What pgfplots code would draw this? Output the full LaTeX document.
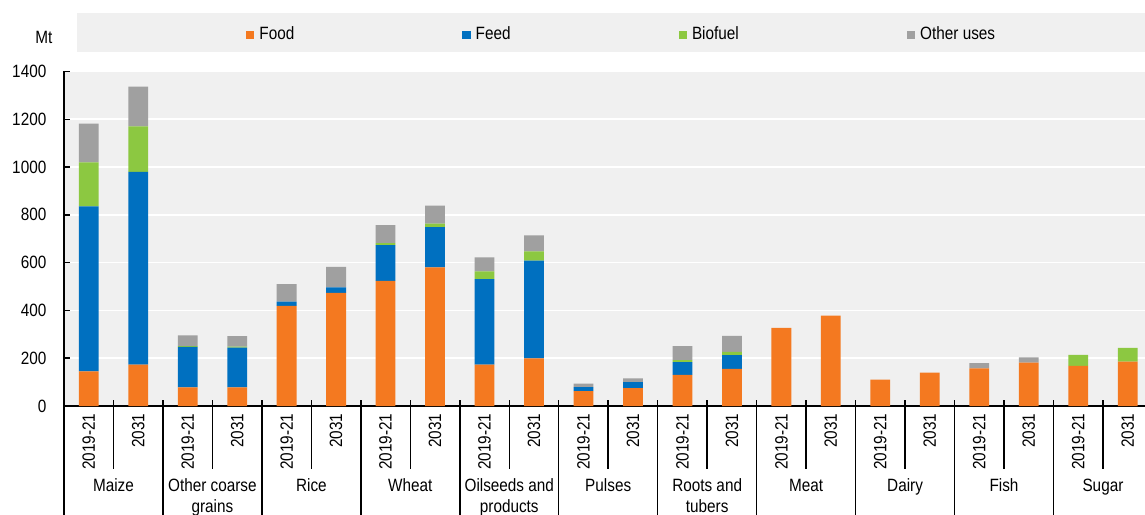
\documentclass[border=0pt]{standalone}
\usepackage{fontspec}
\setmainfont{Liberation Sans}[FakeStretch=0.86]
\usepackage{pgfplots}
\pgfplotsset{compat=1.18}
\definecolor{food}{HTML}{F47920}
\definecolor{feed}{HTML}{0070C0}
\definecolor{bio}{HTML}{8CC841}
\definecolor{oth}{HTML}{A0A0A0}
\definecolor{bg}{HTML}{F0F0F0}
\newcommand\f{\fontsize{8.9}{10.5}\selectfont}
\begin{document}
\begin{tikzpicture}[font=\f]
\fill[bg] (6.5pt,177pt) rectangle (540.5pt,196.5pt);
\node[anchor=base west, inner sep=0pt] at (-14.5pt,181.3pt) {Mt};
\begin{axis}[
  at={(0,0)}, anchor=south west,
  scale only axis,
  width=540.5pt, height=167.25pt,
  xmin=-0.5, xmax=21.35,
  ymin=0, ymax=1400,
  ybar stacked, bar width=0.4,
  ytick={0,200,...,1400},
  xtick={-0.5,0.5,...,21.5},
  xticklabels={},
  tick align=inside,
  major tick length=3pt,
  tick style={black, line width=0.75pt},
  axis x line*=bottom, axis y line*=left,
  axis line style={black, line width=0.75pt, -},
  ymajorgrids, grid style={white, line width=0.8pt},
  axis background/.style={fill=bg},
  clip=false,
  yticklabel style={font=\f, anchor=east, inner sep=0pt, xshift=-8.65pt},
  /pgf/number format/assume math mode=true,
  /pgf/number format/1000 sep={},
  legend columns=4,
  legend cell align=left,
  legend style={draw=none, fill=none, font=\f, inner sep=0pt, outer sep=0pt,
    at={(axis description cs:0.1684,1.1100)}, anchor=west,
    nodes={inner sep=0pt},
    /tikz/every odd column/.append style={column sep=2.5pt},
    /tikz/every even column/.append style={column sep=84pt}},
]
\addplot[fill=food, draw=none, legend image code/.code={\fill[food] (0pt,-2.2pt) rectangle (4.2pt,1.9pt);}] coordinates {
(0,145) (1,173) (2,78) (3,78) (4,419) (5,473) (6,524) (7,580) (8,173) (9,199) (10,62)
(11,75) (12,130) (13,155) (14,327) (15,378) (16,110) (17,140) (18,157) (19,182) (20,168) (21,186)};
\addlegendentry{Food}
\addplot[fill=feed, draw=none, legend image code/.code={\fill[feed] (0pt,-2.2pt) rectangle (4.2pt,1.9pt);}] coordinates {
(0,690) (1,807) (2,169) (3,166) (4,18) (5,23) (6,149) (7,169) (8,358) (9,409) (10,17)
(11,25) (12,54) (13,58) (14,0) (15,0) (16,0) (17,0) (18,0) (19,0) (20,0) (21,0)};
\addlegendentry{Feed}
\addplot[fill=bio, draw=none, legend image code/.code={\fill[bio] (0pt,-2.2pt) rectangle (4.2pt,1.9pt);}] coordinates {
(0,185) (1,190) (2,4) (3,4) (4,0) (5,0) (6,9) (7,14) (8,32) (9,39) (10,0)
(11,0) (12,8) (13,14) (14,0) (15,0) (16,0) (17,0) (18,0) (19,0) (20,46) (21,57)};
\addlegendentry{Biofuel}
\addplot[fill=oth, draw=none, legend image code/.code={\fill[oth] (0pt,-2.2pt) rectangle (4.2pt,1.9pt);}] coordinates {
(0,162) (1,167) (2,45) (3,44) (4,73) (5,86) (6,75) (7,76) (8,59) (9,67) (10,15)
(11,16) (12,59) (13,66) (14,0) (15,0) (16,0) (17,0) (18,22) (19,22) (20,0) (21,0)};
\addlegendentry{Other uses}
% axis line on top of bars
\draw[black, line width=0.75pt] (axis cs:-0.5,0) -- (axis cs:21.35,0);
% separators
\pgfplotsinvokeforeach{-0.5,1.5,3.5,5.5,7.5,9.5,11.5,13.5,15.5,17.5,19.5}{
  \draw[black, line width=0.75pt] (axis cs:#1,0) -- ++(0pt,-60pt);
}
\pgfplotsinvokeforeach{0.5,2.5,4.5,6.5,8.5,10.5,12.5,14.5,16.5,18.5,20.5}{
  \draw[black, line width=0.75pt] (axis cs:#1,0) -- ++(0pt,-31.5pt);
}
\pgfplotsinvokeforeach{0,2,4,6,8,10,12,14,16,18,20}{
  \node[rotate=90, anchor=east, inner sep=0pt] at ([yshift=-3.65pt]axis cs:#1,0) {2019-21};
}
\pgfplotsinvokeforeach{1,3,5,7,9,11,13,15,17,19,21}{
  \node[rotate=90, anchor=east, inner sep=0pt] at ([yshift=-3.65pt]axis cs:#1,0) {2031};
}
\node[anchor=base, inner sep=0pt] at ([yshift=-42.85pt]axis cs:0.5,0) {Maize};
\node[anchor=base, inner sep=0pt] at ([yshift=-42.85pt]axis cs:2.5,0) {Other coarse};
\node[anchor=base, inner sep=0pt] at ([yshift=-53.35pt]axis cs:2.5,0) {grains};
\node[anchor=base, inner sep=0pt] at ([yshift=-42.85pt]axis cs:4.5,0) {Rice};
\node[anchor=base, inner sep=0pt] at ([yshift=-42.85pt]axis cs:6.5,0) {Wheat};
\node[anchor=base, inner sep=0pt] at ([yshift=-42.85pt]axis cs:8.5,0) {Oilseeds and};
\node[anchor=base, inner sep=0pt] at ([yshift=-53.35pt]axis cs:8.5,0) {products};
\node[anchor=base, inner sep=0pt] at ([yshift=-42.85pt]axis cs:10.5,0) {Pulses};
\node[anchor=base, inner sep=0pt] at ([yshift=-42.85pt]axis cs:12.5,0) {Roots and};
\node[anchor=base, inner sep=0pt] at ([yshift=-53.35pt]axis cs:12.5,0) {tubers};
\node[anchor=base, inner sep=0pt] at ([yshift=-42.85pt]axis cs:14.5,0) {Meat};
\node[anchor=base, inner sep=0pt] at ([yshift=-42.85pt]axis cs:16.5,0) {Dairy};
\node[anchor=base, inner sep=0pt] at ([yshift=-42.85pt]axis cs:18.5,0) {Fish};
\node[anchor=base, inner sep=0pt] at ([yshift=-42.85pt]axis cs:20.5,0) {Sugar};
\end{axis}
\pgfresetboundingbox
\path[use as bounding box] (-32pt,-54pt) rectangle (540.5pt,203pt);
\end{tikzpicture}
\end{document}
